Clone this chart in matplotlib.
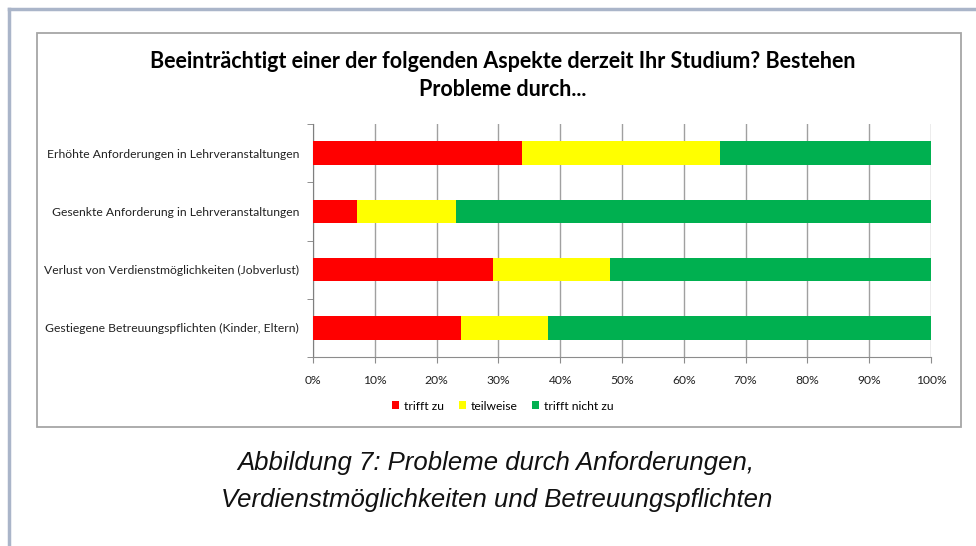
import matplotlib
matplotlib.use("Agg")
import matplotlib.pyplot as plt
from matplotlib.patches import Rectangle
from matplotlib.lines import Line2D
import numpy as np

categories = [
    "Erhöhte Anforderungen in Lehrveranstaltungen",
    "Gesenkte Anforderung in Lehrveranstaltungen",
    "Verlust von Verdienstmöglichkeiten (Jobverlust)",
    "Gestiegene Betreuungspflichten (Kinder, Eltern)",
]
trifft_zu = [33.8, 7.1, 29.2, 23.9]
teilweise = [32.1, 16.0, 18.8, 14.1]
trifft_nicht_zu = [34.1, 76.9, 52.0, 62.0]
series_names = ["trifft zu", "teilweise", "trifft nicht zu"]
colors = ["#FF0000", "#FFFF00", "#00B050"]
xticks = list(range(0, 101, 10))
xtick_labels = [f"{v}%" for v in xticks]

W, H = 976, 546
fig = plt.figure(figsize=(W / 100, H / 100), dpi=100)
fig.patch.set_facecolor("white")

def fx(px):
    return px / W

def fy(py):
    return 1 - py / H

# outer frame (top and left lines)
fig.add_artist(Line2D([fx(9), fx(9)], [fy(9), 0], transform=fig.transFigure,
                      color="#aab5c9", lw=2.5))
fig.add_artist(Line2D([fx(9), 1], [fy(9), fy(9)], transform=fig.transFigure,
                      color="#aab5c9", lw=2.5))
# inner chart box
fig.add_artist(Rectangle((fx(37), fy(427)), fx(961) - fx(37), fy(33) - fy(427),
                         transform=fig.transFigure, fill=False,
                         edgecolor="#a6a6a6", lw=1.3))

ax = fig.add_axes([fx(313), fy(357), fx(931) - fx(313), fy(124) - fy(357)])
y = np.arange(len(categories))
left = np.zeros(len(categories))
for vals, name, c in zip([trifft_zu, teilweise, trifft_nicht_zu], series_names, colors):
    ax.barh(y, vals, left=left, height=0.4, color=c, label=name, zorder=3)
    left = left + np.array(vals)

ax.set_xlim(0, 100)
ax.set_ylim(len(categories) - 0.5, -0.5)
ax.set_xticks(xticks)
ax.set_xticklabels(xtick_labels, fontsize=8.7, family="Lato", color="#222222")
ax.set_yticks(y)
ax.set_yticklabels(categories, fontsize=8.7, family="Lato", color="#222222")
ax.set_yticks(np.arange(-0.5, len(categories), 1.0), minor=True)
ax.tick_params(axis="y", which="major", length=0, pad=10)
ax.tick_params(axis="y", which="minor", length=4, color="#7f7f7f", direction="out")
ax.tick_params(axis="x", which="major", length=4, color="#8c8c8c", direction="out", pad=9)
ax.grid(axis="x", color="#a0a0a0", lw=1, zorder=0)
for s in ["top", "right"]:
    ax.spines[s].set_visible(False)
ax.spines["left"].set_color("#7f7f7f")
ax.spines["bottom"].set_color("#8c8c8c")
ax.set_facecolor("none")

fig.text(fx(503), fy(61), "Beeinträchtigt einer der folgenden Aspekte derzeit Ihr Studium? Bestehen",
         ha="center", va="center", fontsize=15.5, fontweight="bold", family="Lato", color="black")
fig.text(fx(503), fy(89), "Probleme durch...",
         ha="center", va="center", fontsize=15.5, fontweight="bold", family="Lato", color="black")

leg = fig.legend(loc="center", bbox_to_anchor=(fx(503), fy(406)), ncol=3, frameon=False,
                 prop={"family": "Lato", "size": 8.7}, handlelength=0.6, handleheight=0.6,
                 handletextpad=0.4, columnspacing=1.2)

fig.text(fx(496), fy(463), "Abbildung 7: Probleme durch Anforderungen,",
         ha="center", va="center", fontsize=18.5, style="italic", family="Liberation Sans", color="#111111")
fig.text(fx(497), fy(500), "Verdienstmöglichkeiten und Betreuungspflichten",
         ha="center", va="center", fontsize=18.5, style="italic", family="Liberation Sans", color="#111111")

fig.savefig("out.png", dpi=100)
